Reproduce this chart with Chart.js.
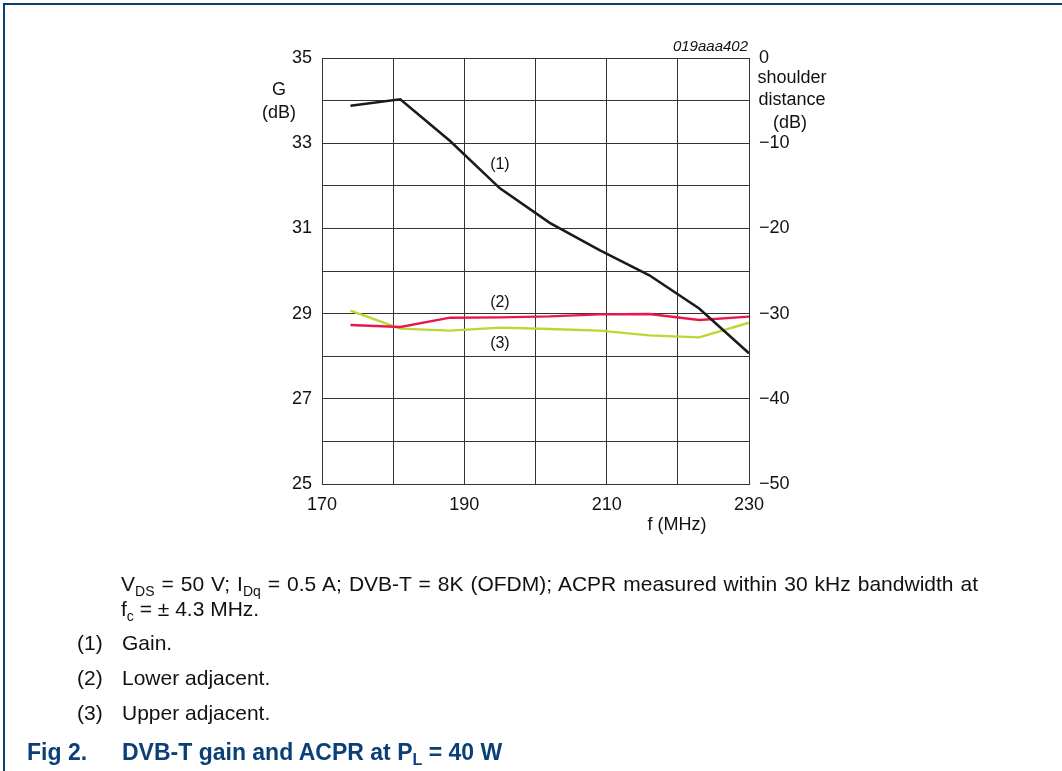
<!DOCTYPE html>
<html>
<head>
<meta charset="utf-8">
<script src="https://cdn.jsdelivr.net/npm/chart.js@4.4.1/dist/chart.umd.min.js"></script>
<style>
  html, body { margin: 0; padding: 0; background: #fff; }
  body { width: 1062px; height: 771px; position: relative; overflow: hidden;
         font-family: "Liberation Sans", Arial, sans-serif; color: #111; }
  #frameTop { position: absolute; left: 3px; top: 3px; width: 1059px; height: 2px; background: #0b3f78; }
  #frameLeft { position: absolute; left: 3px; top: 3px; width: 2px; height: 768px; background: #0b3f78; }
  canvas { position: absolute; left: 0; top: 0; }
  .cap { position: absolute; font-size: 21px; line-height: 23px; white-space: nowrap; }
  .cap sub { font-size: 14px; vertical-align: -5px; line-height: 0; }
  .just { width: 857px; text-align: justify; text-align-last: justify; }
  .title { position: absolute; font-size: 23px; font-weight: bold; color: #0b3f78; white-space: nowrap; line-height: 26px; }
  .title sub { font-size: 16px; vertical-align: -5px; line-height: 0; }
</style>
</head>
<body>
<div id="frameTop"></div>
<div id="frameLeft"></div>
<canvas id="c" width="1062" height="771"></canvas>

<div class="cap just" style="left:121px; top:572px;">V<sub>DS</sub> = 50 V; I<sub>Dq</sub> = 0.5 A; DVB-T = 8K (OFDM); ACPR measured within 30 kHz bandwidth at</div>
<div class="cap" style="left:121px; top:597px;">f<sub>c</sub> = ± 4.3 MHz.</div>
<div class="cap" style="left:77px; top:631px;">(1)</div>
<div class="cap" style="left:122px; top:631px;">Gain.</div>
<div class="cap" style="left:77px; top:666px;">(2)</div>
<div class="cap" style="left:122px; top:666px;">Lower adjacent.</div>
<div class="cap" style="left:77px; top:701px;">(3)</div>
<div class="cap" style="left:122px; top:701px;">Upper adjacent.</div>
<div class="title" style="left:27px; top:739px;">Fig 2.</div>
<div class="title" style="left:122px; top:739px;">DVB-T gain and ACPR at P<sub>L</sub> = 40 W</div>

<script>
// ---- data ----
const freqMHz = [174, 181, 188, 195, 202, 209, 216, 223, 230];
const gainDb = [33.88, 34.03, 33.05, 31.94, 31.13, 30.49, 29.9, 29.12, 28.07];
const lowerAdjacentDb = [-31.34, -31.57, -30.48, -30.44, -30.33, -30.09, -30.05, -30.75, -30.36];
const upperAdjacentDb = [-29.66, -31.77, -32.0, -31.65, -31.8, -32.0, -32.55, -32.79, -31.06];
const xTickLabels = [170, 190, 210, 230];
const gTickLabels = [35, 33, 31, 29, 27, 25];
const sdTickLabels = [0, -10, -20, -30, -40, -50];
const curveLabels = ["(1)", "(2)", "(3)"];
const curveLabelPos = [[195, 32.49], [195, 29.27], [195, 28.29]];

const FONT = '"Liberation Sans", Arial, sans-serif';
const toPts = (xs, ys) => xs.map((x, i) => ({ x: x, y: ys[i] }));
const fmtMinus = v => (v < 0 ? "\u2212" + Math.abs(v) : String(v));

const textPlugin = {
  id: "texts",
  afterDraw(chart) {
    const ctx = chart.ctx;
    const xs = chart.scales.x, ys = chart.scales.y;
    ctx.save();
    ctx.fillStyle = "#111";
    ctx.textBaseline = "middle";
    // curve labels
    ctx.font = "16px " + FONT;
    ctx.textAlign = "center";
    curveLabels.forEach((t, i) => {
      const p = curveLabelPos[i];
      ctx.fillText(t, xs.getPixelForValue(p[0]), ys.getPixelForValue(p[1]));
    });
    // axis titles
    ctx.font = "18px " + FONT;
    ctx.fillText("G", 279, 90);
    ctx.fillText("(dB)", 279, 113);
    ctx.fillText("shoulder", 792, 78);
    ctx.fillText("distance", 792, 100);
    ctx.fillText("(dB)", 790, 123);
    ctx.fillText("f (MHz)", 677, 525);
    // figure code
    ctx.font = "italic 15px " + FONT;
    ctx.textAlign = "right";
    ctx.fillText("019aaa402", 748, 47);
    ctx.restore();
  }
};

const gridColor = "#333333";

new Chart(document.getElementById("c"), {
  type: "scatter",
  data: {
    datasets: [
      { label: "Gain", data: toPts(freqMHz, gainDb), yAxisID: "y",
        borderColor: "#1b1b1b", borderWidth: 2.6 },
      { label: "Lower adjacent", data: toPts(freqMHz, lowerAdjacentDb), yAxisID: "y2",
        borderColor: "#e8184f", borderWidth: 2.4 },
      { label: "Upper adjacent", data: toPts(freqMHz, upperAdjacentDb), yAxisID: "y2",
        borderColor: "#bcd633", borderWidth: 2.4 }
    ].map(d => Object.assign(d, { showLine: true, pointRadius: 0, pointHoverRadius: 0, tension: 0, fill: false }))
  },
  options: {
    responsive: false,
    devicePixelRatio: 1,
    animation: false,
    events: [],
    layout: { padding: { left: 262, right: 253, top: 58, bottom: 247 } },
    plugins: { legend: { display: false }, tooltip: { enabled: false } },
    scales: {
      x: {
        type: "linear", min: 170, max: 230,
        afterFit: s => { s.height = 40; },
        grid: { color: gridColor, lineWidth: 1, drawTicks: false },
        border: { color: gridColor, width: 1 },
        ticks: {
          stepSize: 10, padding: 10, color: "#111", maxRotation: 0, autoSkip: false,
          font: { family: FONT, size: 18 },
          callback: v => (xTickLabels.includes(v) ? String(v) : "")
        }
      },
      y: {
        type: "linear", position: "left", min: 25, max: 35,
        afterFit: s => { s.width = 60; },
        grid: { color: gridColor, lineWidth: 1, drawTicks: false },
        border: { color: gridColor, width: 1 },
        ticks: {
          stepSize: 1, padding: 10, color: "#111", autoSkip: false,
          font: { family: FONT, size: 18 },
          callback: v => (gTickLabels.includes(v) ? String(v) : "")
        }
      },
      y2: {
        type: "linear", position: "right", min: -50, max: 0,
        afterFit: s => { s.width = 60; },
        grid: { display: false, drawTicks: false },
        border: { color: gridColor, width: 1 },
        ticks: {
          stepSize: 10, padding: 10, color: "#111", autoSkip: false,
          font: { family: FONT, size: 18 },
          callback: v => (sdTickLabels.includes(v) ? fmtMinus(v) : "")
        }
      }
    }
  },
  plugins: [textPlugin]
});
</script>
</body>
</html>
